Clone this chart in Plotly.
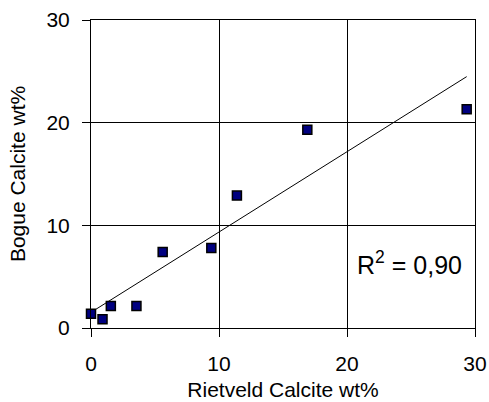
import numpy as np
import plotly.graph_objects as go

# Data
rietveld_calcite = [0.0, 0.9, 1.55, 3.55, 5.6, 9.4, 11.4, 16.9, 29.35]
bogue_calcite = [1.4, 0.85, 2.15, 2.15, 7.4, 7.8, 12.9, 19.3, 21.3]
tick_vals = [0, 10, 20, 30]
tick_text = ["0", "10", "20", "30"]
r2_label = "0,90"

x = np.array(rietveld_calcite)
y = np.array(bogue_calcite)
slope, intercept = np.polyfit(x, y, 1)
x_line = [x.min(), x.max()]
y_line = [slope * v + intercept for v in x_line]

font_family = "Liberation Sans, Arial, sans-serif"

fig = go.Figure()
fig.add_trace(go.Scatter(
    x=x_line, y=y_line, mode="lines",
    line=dict(color="black", width=1), showlegend=False, hoverinfo="skip"))
fig.add_trace(go.Scatter(
    x=rietveld_calcite, y=bogue_calcite, mode="markers",
    marker=dict(symbol="square", size=9, color="#000080",
                line=dict(color="black", width=1.5)),
    showlegend=False, cliponaxis=False))

axis_common = dict(
    range=[0, 30], tickvals=tick_vals, ticktext=tick_text,
    showgrid=True, gridcolor="black", gridwidth=1,
    showline=True, linecolor="black", linewidth=1, mirror=True,
    ticks="outside", ticklen=8, tickcolor="black", tickwidth=1,
    zeroline=False, automargin=False,
    tickfont=dict(family=font_family, size=21, color="black"),
)

fig.update_layout(
    width=489, height=402,
    margin=dict(l=91, r=14, t=20, b=74),
    paper_bgcolor="white", plot_bgcolor="white",
    font=dict(family=font_family, color="black"),
    xaxis=dict(**axis_common,
               title=dict(text="Rietveld Calcite wt%",
                          font=dict(family=font_family, size=21, color="black"),
                          standoff=8),
               ticklabelstandoff=9),
    yaxis=dict(**axis_common,
               title=dict(text="Bogue Calcite wt%",
                          font=dict(family=font_family, size=21, color="black"),
                          standoff=15),
               ticklabelstandoff=8),
    annotations=[dict(
        x=0.83, y=0.21, xref="paper", yref="paper",
        text="R<sup>2</sup> = " + r2_label, showarrow=False,
        font=dict(family=font_family, size=25, color="black"),
        xanchor="center", yanchor="middle")],
)

fig.write_html(
    "out.html",
    config={"displayModeBar": False},
    post_script="document.body.style.margin='0';document.body.style.overflow='hidden';",
)
